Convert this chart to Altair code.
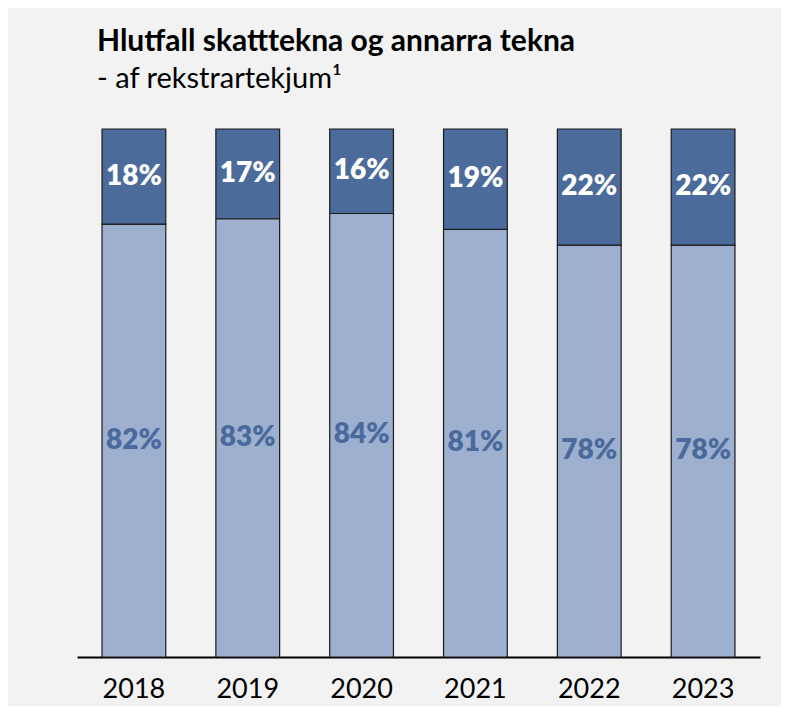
import altair as alt
import pandas as pd

years = ["2018", "2019", "2020", "2021", "2022", "2023"]
skatttekjur = [82, 83, 84, 81, 78, 78]
adrar_tekjur = [18, 17, 16, 19, 22, 22]
series_names = ["Skatttekjur", "Aðrar tekjur"]
series_colors = ["#9eb0cf", "#4b6b9a"]
label_colors = ["#4a6a9c", "#ffffff"]

rows = []
for i, y in enumerate(years):
    rows.append({"year": y, "series": series_names[0], "value": skatttekjur[i], "order": 0})
    rows.append({"year": y, "series": series_names[1], "value": adrar_tekjur[i], "order": 1})
df = pd.DataFrame(rows)

FONT = "Lato"

base = alt.Chart(df).transform_stack(
    stack="value", groupby=["year"], as_=["y0", "y1"],
    sort=[alt.SortField("order", order="ascending")]
).transform_calculate(
    mid="(datum.y0 + datum.y1) / 2",
    label="datum.value + '%'"
)

xenc = alt.X("year:N", sort=years, title=None,
             scale=alt.Scale(paddingInner=0.44, paddingOuter=0.22),
             axis=alt.Axis(labelAngle=0, ticks=False, domainColor="#000000", domainWidth=2,
                           labelFontSize=27, labelColor="#000000", labelFont=FONT,
                           labelPadding=19, grid=False))
yscale = alt.Scale(domain=[0, 100], nice=False)

bars = base.mark_bar(stroke="#1a1a1a", strokeWidth=1.2).encode(
    x=xenc,
    y=alt.Y("y0:Q", scale=yscale, axis=None),
    y2="y1:Q",
    color=alt.Color("series:N", scale=alt.Scale(domain=series_names, range=series_colors), legend=None),
)

labels = base.mark_text(font=FONT, fontWeight=800, fontSize=28, baseline="middle").encode(
    x=alt.X("year:N", sort=years),
    y=alt.Y("mid:Q", scale=yscale),
    text="label:N",
    color=alt.Color("series:N", scale=alt.Scale(domain=series_names, range=label_colors), legend=None),
)

chart = alt.layer(bars, labels).resolve_scale(color="independent").properties(
    width=683,
    height=528,
    background="#f2f2f2",
    padding={"left": 69, "top": 121, "right": 21, "bottom": 49},
    autosize=alt.AutoSizeParams(type="none"),
    title=alt.TitleParams(
        text="Hlutfall skatttekna og annarra tekna",
        subtitle="- af rekstrartekjum¹",
        anchor="start", frame="group", dx=20, offset=34,
        font=FONT, fontSize=30, fontWeight="bold", color="#000000",
        subtitleFont=FONT, subtitleFontSize=29, subtitleColor="#000000",
        subtitlePadding=8,
    ),
).configure_view(stroke=None)

chart.save("out.html", embed_options={"renderer": "svg", "actions": False})
